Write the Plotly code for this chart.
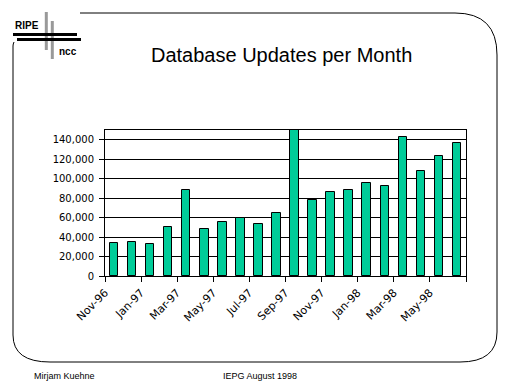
import plotly.graph_objects as go

months = ["Nov-96", "Dec-96", "Jan-97", "Feb-97", "Mar-97", "Apr-97", "May-97", "Jun-97",
          "Jul-97", "Aug-97", "Sep-97", "Oct-97", "Nov-97", "Dec-97", "Jan-98", "Feb-98",
          "Mar-98", "Apr-98", "May-98", "Jun-98"]
updates = [34000, 35000, 32800, 50000, 88000, 48000, 55500, 59500, 53500, 64500,
           156000, 78000, 86000, 88000, 95500, 92500, 142500, 108000, 123500, 136500]
tick_labels = ["Nov-96", "Jan-97", "Mar-97", "May-97", "Jul-97", "Sep-97",
               "Nov-97", "Jan-98", "Mar-98", "May-98", ""]

FONT = "Liberation Sans, Arial, sans-serif"
TFONT = "DejaVu Sans, sans-serif"
# target pixel geometry in the window; page body has an 8px margin
OFF = 8
L, R, T, B = 105, 466, 130, 276
W, H = 512 - OFF, 384 - OFF


def px(x):
    return (x - L) / (R - L)


def py(y):
    return (B - y) / (B - T)


xs = list(range(len(months)))
fig = go.Figure(go.Bar(
    x=xs, y=updates, width=0.47,
    marker=dict(color="#00CC99", line=dict(color="black", width=1)),
    hovertext=months,
))

shapes = []
frame = (f"M {px(80)},{py(13)} L {px(455)},{py(13)} Q {px(497)},{py(13)} {px(497)},{py(55)} "
         f"L {px(497)},{py(332)} Q {px(497)},{py(362)} {px(460)},{py(362)} "
         f"L {px(50)},{py(362)} Q {px(13)},{py(362)} {px(13)},{py(335)} L {px(13)},{py(46)} "
         f"Q {px(13)},{py(44)} {px(14)},{py(42)}")
shapes.append(dict(type="path", xref="paper", yref="paper", path=frame,
                   line=dict(color="black", width=1)))
shapes.append(dict(type="line", xref="paper", yref="paper", x0=px(46.3), x1=px(46.3), y0=py(12), y1=py(50),
                   line=dict(color="#999999", width=3)))
shapes.append(dict(type="line", xref="paper", yref="paper", x0=px(52.3), x1=px(52.3), y0=py(21), y1=py(59),
                   line=dict(color="#999999", width=3)))
shapes.append(dict(type="line", xref="paper", yref="paper", x0=px(13), x1=px(77), y0=py(34.5), y1=py(34.5),
                   line=dict(color="black", width=3)))
shapes.append(dict(type="line", xref="paper", yref="paper", x0=px(17), x1=px(81), y0=py(39.5), y1=py(39.5),
                   line=dict(color="black", width=3)))

annotations = [
    dict(text="Database Updates per Month", x=px(281), y=py(55), xref="paper", yref="paper",
         showarrow=False, font=dict(family=FONT, size=20, color="black"), xanchor="center", yanchor="middle"),
    dict(text="<b>RIPE</b>", x=px(13), y=py(25.5), xref="paper", yref="paper", showarrow=False,
         font=dict(family=FONT, size=10, color="black"), xanchor="left", yanchor="middle"),
    dict(text="<b>ncc</b>", x=px(57), y=py(51), xref="paper", yref="paper", showarrow=False,
         font=dict(family=FONT, size=10, color="black"), xanchor="left", yanchor="middle"),
    dict(text="Mirjam Kuehne", x=px(32), y=py(376), xref="paper", yref="paper", showarrow=False,
         font=dict(family=FONT, size=9, color="black"), xanchor="left", yanchor="middle"),
    dict(text="IEPG August 1998", x=px(221), y=py(376), xref="paper", yref="paper", showarrow=False,
         font=dict(family=FONT, size=9, color="black"), xanchor="left", yanchor="middle"),
]

fig.update_layout(
    width=W, height=H,
    margin=dict(l=L - OFF, r=W - (R - OFF), t=T - OFF, b=H - (B - OFF), pad=0),
    paper_bgcolor="white", plot_bgcolor="white",
    showlegend=False, bargap=0,
    font=dict(family=FONT, size=11, color="black"),
    shapes=shapes, annotations=annotations,
    xaxis=dict(range=[-0.5, len(months) - 0.5], tickmode="array",
               tickvals=[i - 0.5 for i in range(0, len(months) + 1, 2)],
               ticktext=tick_labels, tickangle=-45, ticks="outside", ticklen=5,
               tickcolor="black", showline=True, linecolor="black", linewidth=1, mirror=True,
               showgrid=False, zeroline=False, fixedrange=True,
               tickfont=dict(family=TFONT, size=11, color="black")),
    yaxis=dict(range=[0, 150000], tickmode="array",
               tickvals=[0, 20000, 40000, 60000, 80000, 100000, 120000, 140000],
               tickformat=",", ticks="outside", ticklen=5, tickcolor="black",
               ticklabelstandoff=3,
               showline=True, linecolor="black", linewidth=1, mirror=True,
               showgrid=True, gridcolor="black", gridwidth=1, zeroline=False, fixedrange=True,
               tickfont=dict(family=TFONT, size=10, color="black")),
)

fig.write_html("out.html")
